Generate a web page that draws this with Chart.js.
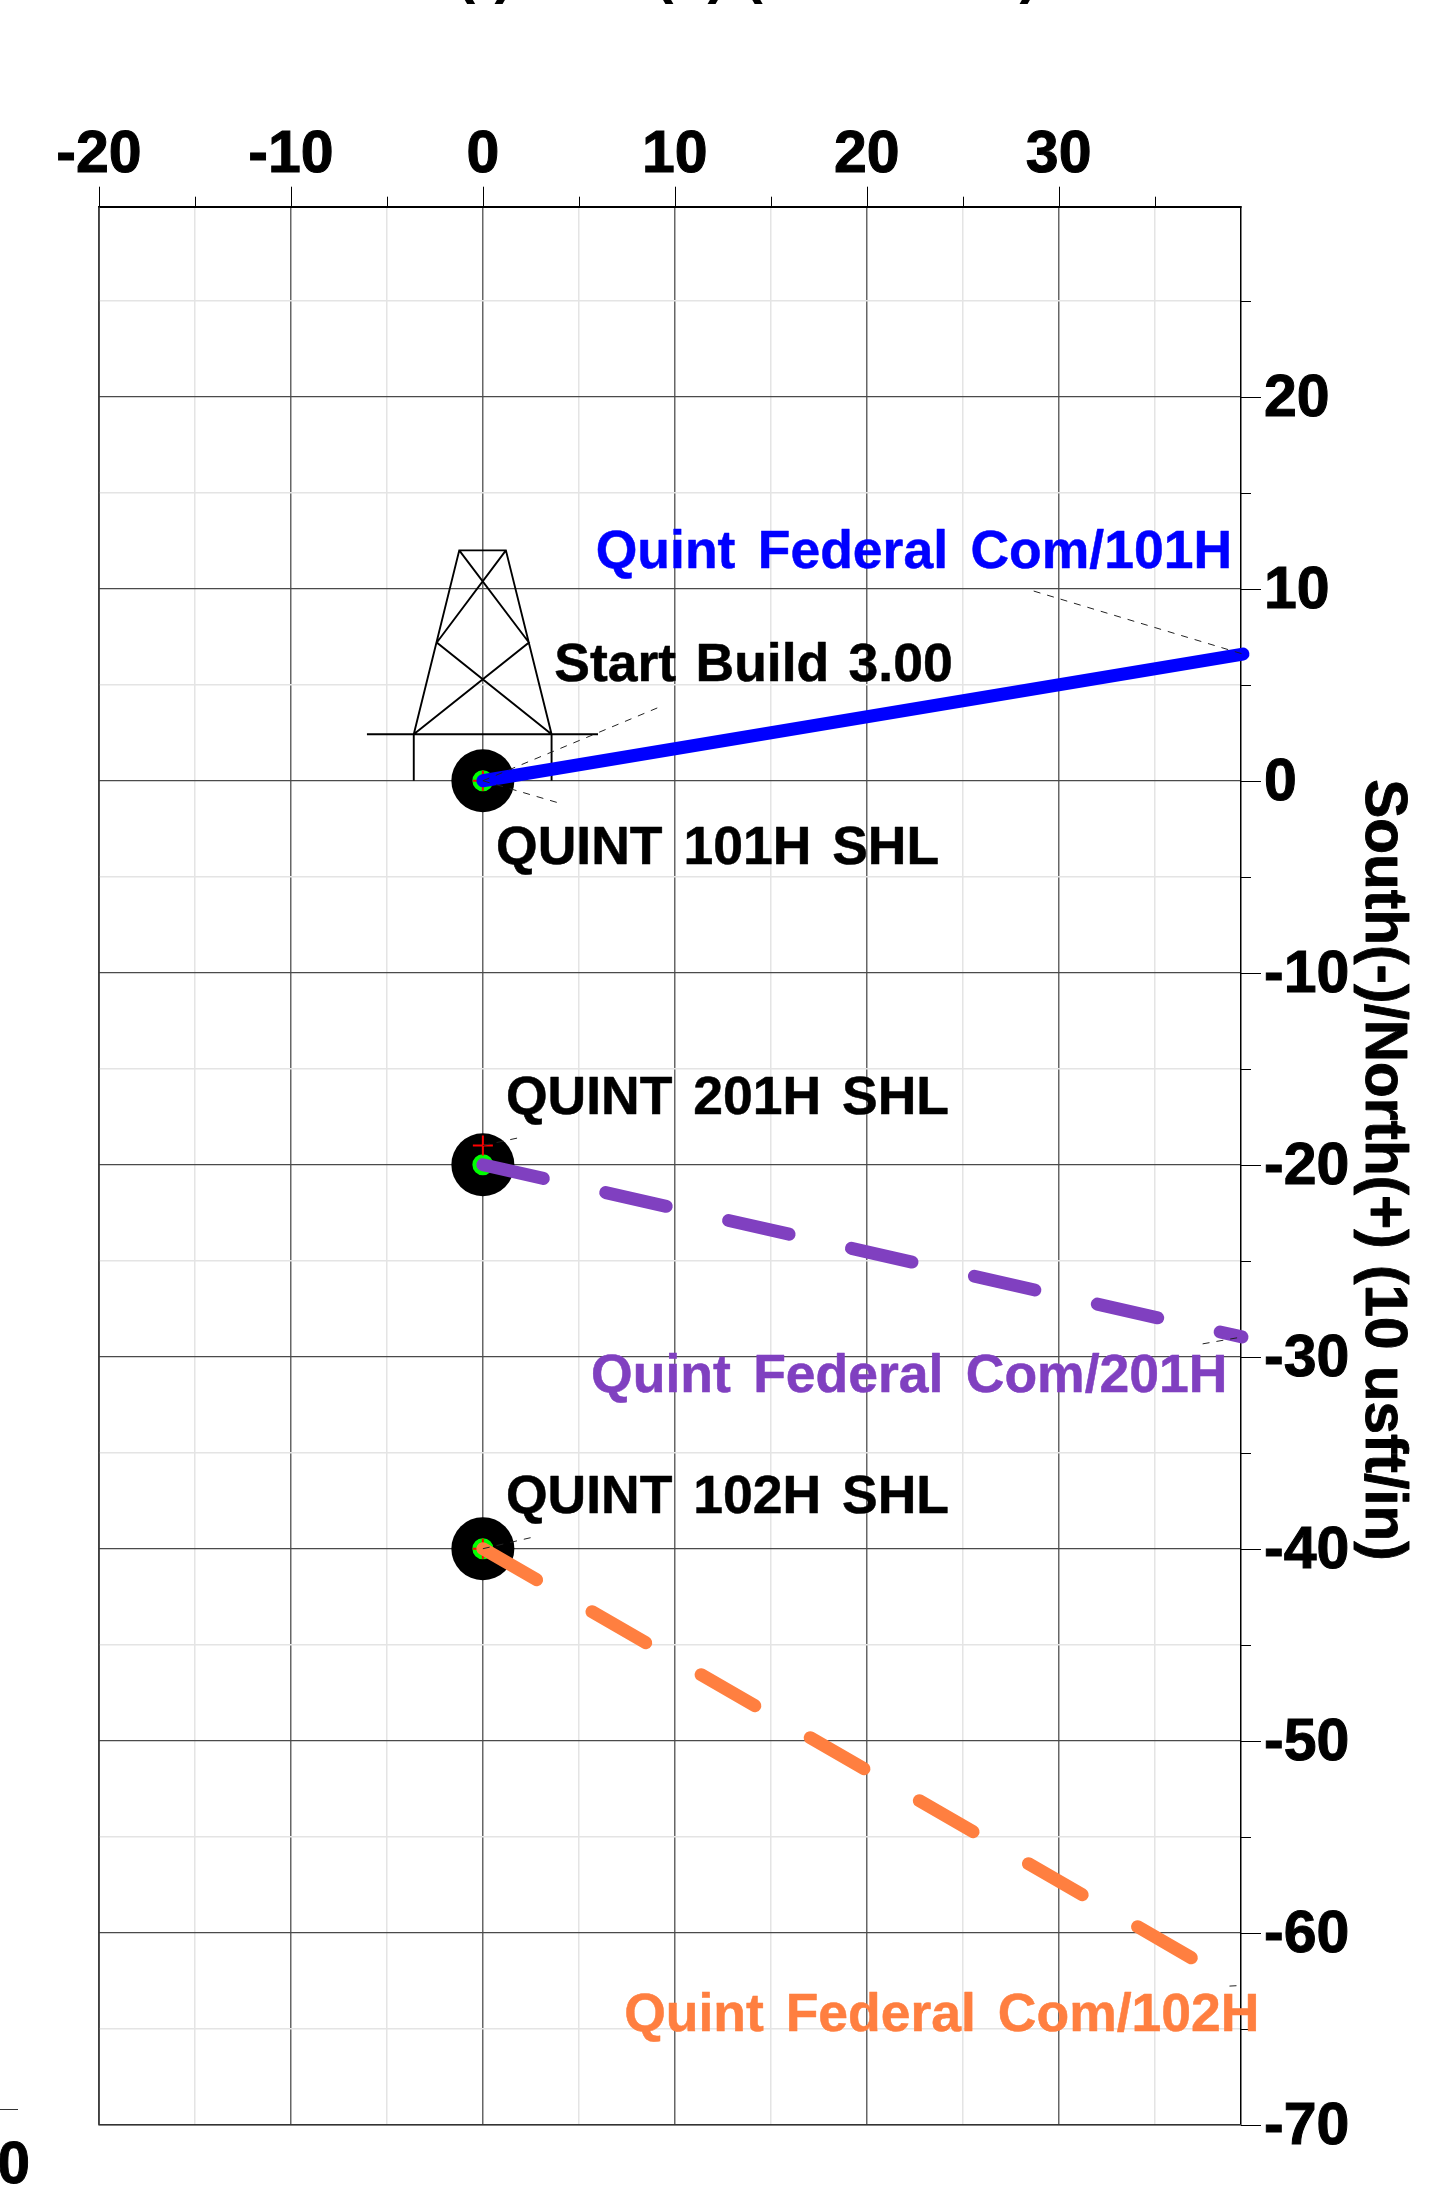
<!DOCTYPE html>
<html>
<head>
<meta charset="utf-8">
<style>html,body{margin:0;padding:0;background:#fff}canvas{display:block}</style>
<script src="https://cdn.jsdelivr.net/npm/chart.js@4/dist/chart.umd.min.js"></script>
</head>
<body>
<canvas id="c" width="1451" height="2212"></canvas>
<script>
// Wellbore series (East/West, North/South in chart units)
const well101X = [0, 39.6];
const well101Y = [0, 6.6];
const well201X = [0, 39.55];
const well201Y = [-20, -28.97];
const well102X = [0, 39.5];
const well102Y = [-40, -62.8];
// Surface locations
const shlX = [0, 0, 0];
const shlY = [0, -20, -40];
const crossX = [0, 0, 0];
const crossY = [0, -19, -40];
// Rig symbol (nulls break the outline)
const rigX = [-6.04, 6, null, -3.6, -3.6, null, 3.58, 3.58, null, -3.6, -1.23, 1.2, 3.58, null, -1.23, 2.4, -3.6, null, 1.2, -2.4, 3.58];
const rigY = [2.42, 2.42, null, 2.42, 0, null, 2.42, 0, null, 2.42, 12, 12, 2.42, null, 12, 7.2, 2.42, null, 12, 7.2, 2.42];
// Label leaders
const leaderBuildX = [0, 9.25];
const leaderBuildY = [0, 3.86];
const leaderShl101X = [0, 3.9];
const leaderShl101Y = [0, -1.14];
const leaderShl201X = [0, 1.98];
const leaderShl201Y = [-19, -18.57];
const leaderShl102X = [0, 2.6];
const leaderShl102Y = [-40, -39.4];
const leaderCom101X = [28.7, 39.6];
const leaderCom101Y = [9.88, 6.6];
const leaderCom201X = [37.5, 39.55];
const leaderCom201Y = [-29.33, -28.97];
const leaderCom102X = [38.9, 39.5];
const leaderCom102Y = [-62.78, -62.75];
// Axis range
const xMin = -20, xMax = 39.5, yMin = -70, yMax = 29.9;
const gridStep = 5, labelStep = 10;
// Annotations
const labelTexts = ['Quint Federal Com/101H', 'Start Build 3.00', 'QUINT 101H SHL', 'QUINT 201H SHL', 'QUINT 102H SHL', 'Quint Federal Com/201H', 'Quint Federal Com/102H'];
const labelX = [5.88, 3.72, 0.69, 1.2, 1.2, 5.64, 7.36];
const labelY = [11.08, 5.18, -4.33, -17.36, -38.12, -31.84, -65.1];
const labelColors = ['#0000ff', '#000000', '#000000', '#000000', '#000000', '#8040c0', '#ff7f40'];
const labelGaps = [7.5, 4.5, 6, 6, 6, 7.5, 7];
const xTitle = 'West(-)/East(+) (10 usft/in)';
const yTitle = 'South(-)/North(+) (10 usft/in)';

const FONT = '"Liberation Sans", Arial, sans-serif';
const zip = (xs, ys) => xs.map((x, i) => ({x, y: ys[i]}));
const isMajor = v => Math.abs(v % labelStep) < 1e-6;
const leader = (xs, ys) => ({
  data: zip(xs, ys), showLine: true, pointRadius: 0, borderColor: '#222', borderWidth: 1,
  borderDash: [7, 7], order: 1, clip: false
});
const well = (xs, ys, color, dash, w) => ({
  data: zip(xs, ys), showLine: true, pointRadius: 0, borderColor: color, borderWidth: w,
  borderCapStyle: 'round', borderDash: dash, order: 2, clip: false
});
const tickFont = {family: FONT, size: 59, weight: 'bold'};

const overlay = {
  id: 'overlay',
  afterDraw(chart) {
    const {ctx, chartArea: a} = chart;
    const sx = chart.scales.x, sy = chart.scales.y;
    ctx.save();
    // box edges
    ctx.strokeStyle = '#333'; ctx.lineWidth = 1.5;
    ctx.beginPath();
    ctx.moveTo(a.left, a.top); ctx.lineTo(a.left, a.bottom); ctx.lineTo(a.right, a.bottom);
    ctx.stroke();
    // outward ticks
    ctx.strokeStyle = '#000'; ctx.lineWidth = 1;
    ctx.beginPath();
    sx.ticks.forEach(t => {
      const p = Math.round(sx.getPixelForValue(t.value)) + 0.5;
      ctx.moveTo(p, a.top); ctx.lineTo(p, a.top - (isMajor(t.value) ? 20 : 10));
    });
    sy.ticks.forEach(t => {
      const p = Math.round(sy.getPixelForValue(t.value)) + 0.5;
      ctx.moveTo(a.right, p); ctx.lineTo(a.right + (isMajor(t.value) ? 20 : 10), p);
    });
    ctx.stroke();
    // annotations
    ctx.textAlign = 'left'; ctx.textBaseline = 'alphabetic';
    ctx.font = 'bold 53.5px ' + FONT;
    ctx.lineWidth = 0.5; ctx.lineJoin = 'round';
    labelTexts.forEach((s, i) => {
      ctx.wordSpacing = labelGaps[i] + 'px';
      ctx.fillStyle = labelColors[i];
      ctx.strokeStyle = labelColors[i];
      const px = sx.getPixelForValue(labelX[i]), py = sy.getPixelForValue(labelY[i]);
      ctx.fillText(s, px, py);
      ctx.strokeText(s, px, py);
    });
    ctx.wordSpacing = '0px';
    // axis titles
    ctx.fillStyle = '#000';
    ctx.strokeStyle = '#000';
    ctx.lineWidth = 0.9;
    ctx.font = 'bold 58.5px ' + FONT;
    ctx.textAlign = 'center';
    ctx.fillText(xTitle, 678, -8);
    ctx.save();
    ctx.translate(1366, 1170);
    ctx.rotate(Math.PI / 2);
    ctx.fillText(yTitle, 0, 0);
    ctx.strokeText(yTitle, 0, 0);
    ctx.restore();
    // edge of the neighbouring panel
    ctx.textAlign = 'right';
    ctx.fillText('0', 30, 2183);
    ctx.strokeText('0', 30, 2183);
    ctx.strokeStyle = '#333'; ctx.lineWidth = 1;
    ctx.beginPath(); ctx.moveTo(0, 2109.5); ctx.lineTo(18, 2109.5); ctx.stroke();
    ctx.restore();
  }
};

new Chart(document.getElementById('c'), {
  type: 'scatter',
  data: {
    datasets: [
      leader(leaderBuildX, leaderBuildY),
      leader(leaderShl101X, leaderShl101Y),
      leader(leaderShl201X, leaderShl201Y),
      leader(leaderShl102X, leaderShl102Y),
      leader(leaderCom101X, leaderCom101Y),
      leader(leaderCom201X, leaderCom201Y),
      leader(leaderCom102X, leaderCom102Y),
      well(well101X, well101Y, '#0000ff', [], 13),
      well(well201X, well201Y, '#8040c0', [62, 64], 13),
      well(well102X, well102Y, '#ff7f40', [62, 64], 13),
      {data: zip(crossX, crossY), pointStyle: 'cross', pointRadius: 10, borderColor: '#ff0000', backgroundColor: '#ff0000', pointBorderWidth: 2, order: 3, clip: false},
      {data: zip(shlX, shlY), pointStyle: 'circle', pointRadius: 8, borderColor: '#00ff00', backgroundColor: 'rgba(0,0,0,0)', pointBorderWidth: 5, order: 4, clip: false},
      {data: zip(shlX, shlY), pointStyle: 'circle', pointRadius: 31.5, borderColor: '#000', backgroundColor: '#000', pointBorderWidth: 0, order: 5, clip: false},
      {data: zip(rigX, rigY), showLine: true, pointRadius: 0, borderColor: '#000', borderWidth: 1.9, order: 6, clip: false, spanGaps: false}
    ]
  },
  options: {
    responsive: false,
    animation: false,
    layout: {padding: {left: 99, top: 0, right: 0, bottom: 87.3}},
    plugins: {legend: {display: false}, tooltip: {enabled: false}, title: {display: false}},
    scales: {
      x: {
        type: 'linear', position: 'top', min: xMin, max: xMax,
        afterFit(s) { s.height = 206.7; },
        border: {display: true, color: '#000', width: 2},
        grid: {
          drawTicks: false,
          color: c => isMajor(c.tick.value) ? '#666666' : '#e4e4e4',
          lineWidth: 1.5
        },
        ticks: {
          stepSize: gridStep, includeBounds: false, autoSkip: false, maxRotation: 0, minRotation: 0, padding: 16,
          color: '#000', font: tickFont, textStrokeColor: '#000', textStrokeWidth: 1,
          callback: v => isMajor(v) ? String(v) : ''
        }
      },
      y: {
        type: 'linear', position: 'right', min: yMin, max: yMax,
        afterFit(s) { s.width = 210; },
        border: {display: true, color: '#000', width: 1.5},
        grid: {
          drawTicks: false,
          color: c => isMajor(c.tick.value) ? '#4a4a4a' : '#e4e4e4',
          lineWidth: c => isMajor(c.tick.value) ? 1.2 : 1.5
        },
        ticks: {
          stepSize: gridStep, includeBounds: false, autoSkip: false, padding: 23, labelOffset: 3,
          color: '#000', font: tickFont, textStrokeColor: '#000', textStrokeWidth: 1,
          callback: v => isMajor(v) ? String(v) : ''
        }
      }
    }
  },
  plugins: [overlay]
});
</script>
</body>
</html>
